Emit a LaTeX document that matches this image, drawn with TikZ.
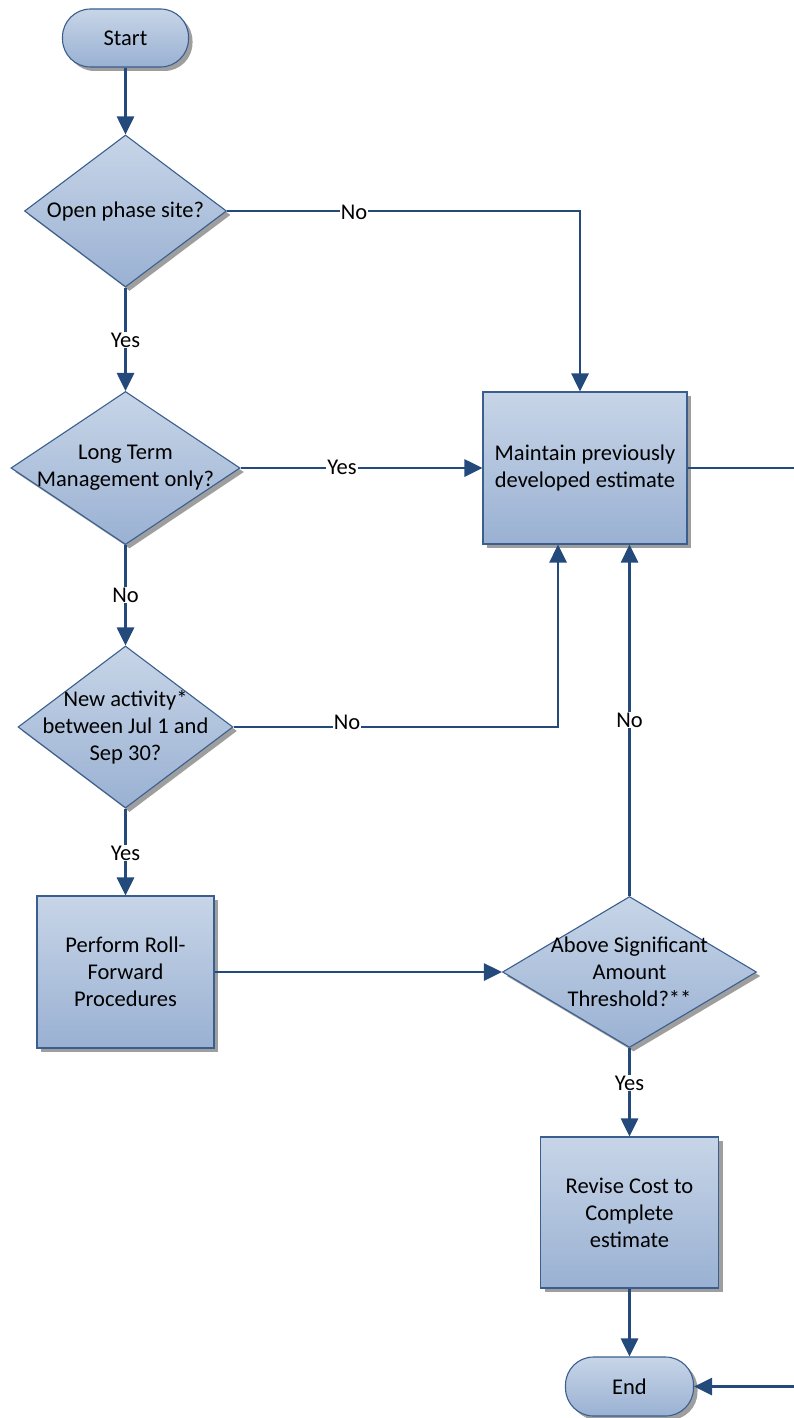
\documentclass[tikz,border=0pt]{standalone}
\usepackage{fontspec}
\setmainfont{Carlito}
\usetikzlibrary{shapes.geometric,shadows,arrows.meta}
\definecolor{edgeblue}{HTML}{3A5F8F}
\definecolor{lineblue}{HTML}{244A7C}
\definecolor{filltop}{HTML}{C7D5E7}
\definecolor{fillbot}{HTML}{9AB1D3}
\definecolor{shadowgray}{HTML}{9E9E9E}
\tikzset{
  shapebase/.style={draw=edgeblue, line width=1.1pt, top color=filltop, bottom color=fillbot,
    general shadow={fill=shadowgray, shadow xshift=4pt, shadow yshift=-4pt},
    inner sep=0pt, font=\fontsize{22.5}{27}\selectfont, align=center, text=black},
  terminal/.style={shapebase, rectangle, rounded corners=28pt},
  process/.style={shapebase, rectangle},
  decision/.style={shapebase, diamond},
  dtext/.style={font=\fontsize{22.5}{27}\selectfont, align=center, inner sep=0pt, text=black},
  conn/.style={draw=lineblue, line width=2.8pt, -{Triangle[length=18pt,width=17pt]}},
  lbl/.style={fill=white, inner sep=1pt, font=\fontsize{22.5}{27}\selectfont, text=black}
}
\begin{document}
\begin{tikzpicture}[x=1pt,y=-1pt]
\useasboundingbox (0,0) rectangle (794,1418);
\clip (0,0) rectangle (794,1418);
% nodes
\node[terminal, minimum width=126pt, minimum height=58pt] (start) at (125.5,38) {Start};
\node[decision, minimum width=202pt, minimum height=152pt] (d1) at (125.5,211) {};
\node[dtext] (t1) at (d1) {Open phase site?};
\node[decision, minimum width=229pt, minimum height=153pt] (d2) at (125.5,468) {};
\node[dtext] (t2) at (d2) {Long Term\\Management only?};
\node[decision, minimum width=215pt, minimum height=162pt] (d3) at (125.5,727) {};
\node[dtext] (t3) at (d3) {New activity*\\between Jul 1 and\\Sep 30?};
\node[process, minimum width=204pt, minimum height=152pt] (b1) at (585,468) {Maintain previously\\developed estimate};
\node[process, minimum width=177pt, minimum height=152pt] (b2) at (125.5,972) {Perform Roll-\\Forward\\Procedures};
\node[decision, minimum width=254pt, minimum height=151pt] (d4) at (629.5,972) {};
\node[dtext] (t4) at (d4) {Above Significant\\Amount\\Threshold?**};
\node[process, minimum width=178pt, minimum height=151pt] (b3) at (629.5,1212.5) {Revise Cost to\\Complete\\estimate};
\node[terminal, minimum width=128pt, minimum height=59pt] (end) at (629.5,1386.5) {End};
% connectors
\draw[conn] (start.south) -- (d1.north);
\draw[conn] (d1.east) -| ([xshift=-5pt]b1.north);
\draw[conn] (d1.south) -- (d2.north);
\draw[conn] (d2.east) -- (b1.west);
\draw[conn] (d2.south) -- (d3.north);
\draw[conn] (d3.east) -| ([xshift=-27pt]b1.south);
\draw[conn] (d3.south) -- (b2.north);
\draw[conn] (b2.east) -- (d4.west);
\draw[conn] (d4.north) -- (d4.north |- b1.south);
\draw[conn] (d4.south) -- (b3.north);
\draw[conn] (b3.south) -- (end.north);
\draw[conn] (b1.east) -- ++(130,0) |- (end.east);
% labels
\node[lbl] (lno1) at (354,212) {No};
\node[lbl] (lyes1) at (125.5,340) {Yes};
\node[lbl] (lyes2) at (342,467) {Yes};
\node[lbl] (lno2) at (125.5,595) {No};
\node[lbl] (lno3) at (347,722) {No};
\node[lbl] (lyes3) at (125.5,853) {Yes};
\node[lbl] (lno4) at (629.5,720) {No};
\node[lbl] (lyes4) at (629.5,1083) {Yes};
\end{tikzpicture}
\end{document}
